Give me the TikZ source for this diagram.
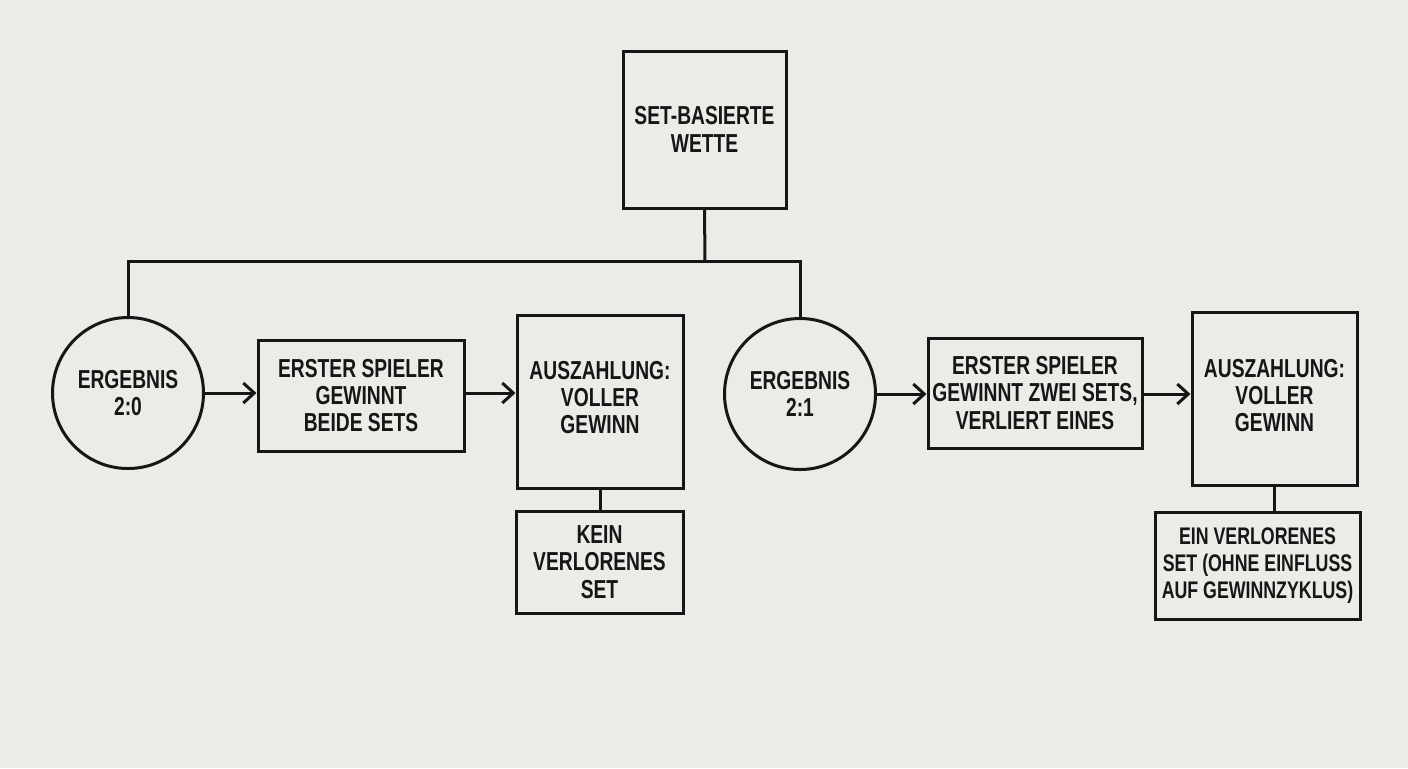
\documentclass[tikz,border=0pt]{standalone}
\usepackage{fontspec}
\setmainfont{Liberation Sans}[FakeStretch=0.74]
\usetikzlibrary{arrows.meta,positioning,calc}

\definecolor{papier}{HTML}{EDEBE7}
\definecolor{tinte}{HTML}{161616}

\tikzset{
  box/.style={draw=tinte, line width=1.5pt, rectangle, inner sep=0pt,
    align=center, text=tinte},
  rund/.style={draw=tinte, line width=1.5pt, circle, inner sep=0pt,
    minimum size=75.5pt, align=center, text=tinte},
  pfeil/.style={draw=tinte, line width=1.5pt,
    -{Straight Barb[length=5.5pt,width=10pt,line width=1.5pt]}},
  linie/.style={draw=tinte, line width=1.5pt}
}

\begin{document}
\begin{tikzpicture}[x=0.5pt, y=-0.5pt,
    font=\fontsize{13pt}{13.6pt}\selectfont\bfseries]
    \fill[papier] (0,0) rectangle (1408,768);
    \useasboundingbox (0,0) rectangle (1408,768);

    % Wurzel
    \node [box, minimum width=81.5pt, minimum height=78.5pt]
      (wette) at (704.5,129.5) {SET-BASIERTE\\WETTE};

    % Zweig 2:0
    \node [rund] (erg20) at (128,393) {ERGEBNIS\\2:0};
    \node [box, minimum width=103pt, minimum height=55.5pt]
      (spiel20) at (361,395.5) {ERSTER SPIELER\\GEWINNT\\BEIDE SETS};
    \node [box, minimum width=83pt, minimum height=86.5pt, text depth=4pt]
      (zahl20) at (600,401.5) {AUSZAHLUNG:\\VOLLER\\GEWINN};
    \node [box, minimum width=83.5pt, minimum height=51pt]
      (kein20) at (599.5,562) {KEIN\\VERLORENES\\SET};

    % Zweig 2:1
    \node [rund] (erg21) at (800,394) {ERGEBNIS\\2:1};
    \node [box, minimum width=107pt, minimum height=55pt]
      (spiel21) at (1035,393) {ERSTER SPIELER\\GEWINNT ZWEI SETS,\\VERLIERT EINES};
    \node [box, minimum width=82.5pt, minimum height=86.5pt, text depth=3pt]
      (zahl21) at (1274.5,398.5) {AUSZAHLUNG:\\VOLLER\\GEWINN};
    \node [box, minimum width=102.5pt, minimum height=53.5pt,
      font=\fontsize{12pt}{13.6pt}\selectfont\bfseries]
      (ein21) at (1257.5,565.5) {EIN VERLORENES\\SET (OHNE EINFLUSS\\AUF GEWINNZYKLUS)};

    % Verbindungen
    \coordinate (gabel) at (705,261);
    \draw [linie] (wette.south) -- (gabel);
    \draw [linie] (erg20.north) |- (gabel) -| (erg21.north);

    \draw [pfeil] (erg20.east) -- (erg20.east -| spiel20.west);
    \draw [pfeil] (spiel20.east |- erg20.east) -- (erg20.east -| zahl20.west);
    \draw [linie] (zahl20.south) -- (kein20.north -| zahl20.south);

    \draw [pfeil] (erg21.east) -- (erg21.east -| spiel21.west);
    \draw [pfeil] (spiel21.east |- erg21.east) -- (erg21.east -| zahl21.west);
    \draw [linie] (ein21.north -| zahl21.south) -- (zahl21.south);
\end{tikzpicture}
\end{document}
